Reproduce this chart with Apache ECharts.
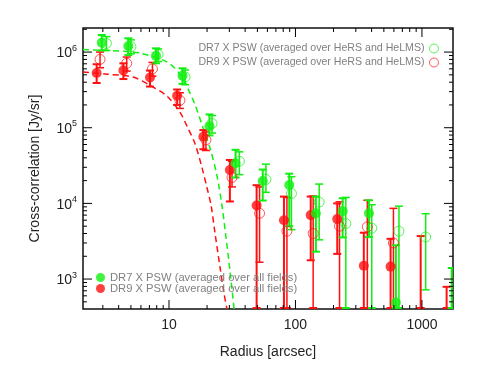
<!DOCTYPE html>
<html><head><meta charset="utf-8">
<script src="https://cdn.jsdelivr.net/npm/echarts@6/dist/echarts.min.js"></script>
<style>html,body{margin:0;padding:0;background:#fff}#c{width:478px;height:367px}</style>
</head><body><div id="c"></div>
<script>
// ---- axis ranges and ticks ----
const xRange = [2.09, 1760];
const yRange = [402, 2.08e6];
const xMajorTicks = [10, 100, 1000];
const yMajorTicks = [1e3, 1e4, 1e5, 1e6];
const xMinorTicks = [3,4,5,6,7,8,9,20,30,40,50,60,70,80,90,200,300,400,500,600,700,800,900];
const yMinorTicks = [500,600,700,800,900,2e3,3e3,4e3,5e3,6e3,7e3,8e3,9e3,2e4,3e4,4e4,5e4,6e4,7e4,8e4,9e4,2e5,3e5,4e5,5e5,6e5,7e5,8e5,9e5,2e6];

// ---- data: [radius, value, errLow, errHigh] ----
const dr7AllFields = [
  [2.94, 1.33e6, 1.05e6, 1.68e6],
  [4.77, 1.2e6, 9.1e5, 1.52e6],
  [7.89, 8.9e5, 7.1e5, 1.12e6],
  [12.8, 4.87e5, 3.8e5, 6.1e5],
  [20.9, 1.05e5, 7.9e4, 1.5e5],
  [33.6, 3.4e4, 2.2e4, 5.1e4],
  [55.1, 1.98e4, 1.09e4, 2.8e4],
  [89.3, 1.75e4, 5.0e3, 2.47e4],
  [145, 7.4e3, 2.3e3, 1.23e4],
  [236, 7.9e3, 3.55e3, 1.17e4],
  [381, 7.4e3, 3.6e3, 1.1e4],
  [622, 490, 100, 2.8e3],
  [1720, 150, 100, 1.4e3]
];
const dr9AllFields = [
  [2.68, 5.3e5, 3.9e5, 6.9e5],
  [4.36, 5.7e5, 4.4e5, 7.1e5],
  [7.08, 4.6e5, 3.5e5, 5.7e5],
  [11.6, 2.65e5, 2.0e5, 3.2e5],
  [18.7, 7.6e4, 5.2e4, 9.3e4],
  [30.3, 2.76e4, 1.06e4, 3.75e4],
  [49.3, 9.4e3, 100, 1.74e4],
  [81.1, 6.0e3, 100, 1.23e4],
  [132, 7.0e3, 1.77e3, 1.23e4],
  [214, 6.2e3, 2.15e3, 1.0e4],
  [347, 1.5e3, 100, 4.1e3],
  [565, 1.46e3, 100, 3.4e3],
  [977, 150, 100, 3.7e3],
  [1567, 150, 100, 790]
];
const dr7HerMS = [
  [3.2, 1.3e6, 1.05e6, 1.6e6],
  [5.0, 1.18e6, 9.5e5, 1.45e6],
  [8.2, 9.3e5, 7.5e5, 1.1e6],
  [13.4, 4.7e5, 3.7e5, 5.8e5],
  [21.9, 1.14e5, 8.5e4, 1.45e5],
  [36, 3.6e4, 2.4e4, 4.8e4],
  [58.4, 2.07e4, 1.4e4, 3.3e4],
  [92.9, 1.35e4, 4.5e3, 2.25e4],
  [154, 1.04e4, 3.3e3, 1.8e4],
  [250, 5.4e3, 100, 1.2e4],
  [401, 4.7e3, 100, 9.6e3],
  [658, 4.3e3, 100, 9.2e3],
  [1070, 3.6e3, 720, 7.3e3]
];
const dr9HerMS = [
  [2.85, 8.0e5, 6.2e5, 1.0e6],
  [4.63, 7.1e5, 5.6e5, 8.6e5],
  [7.4, 6.0e5, 4.8e5, 7.3e5],
  [12.2, 2.3e5, 1.8e5, 2.9e5],
  [19.6, 6.9e4, 5.0e4, 8.8e4],
  [31.5, 2.2e4, 1.65e4, 3.6e4],
  [52, 7.4e3, 1.67e3, 1.65e4],
  [85.6, 4.3e3, 100, 1.2e4],
  [138, 4.0e3, 100, 1.25e4],
  [223, 5.0e3, 100, 1.05e4],
  [370, 4.9e3, 100, 1.1e4],
  [595, 3.0e3, 100, 8.6e3]
];
// ---- dashed model curves: [radius, value] ----
const dr7Fit = [[2.09,1.08e6],[4.66,1.02e6],[5.9,9.7e5],[9.64,7.4e5],[12.2,5.1e5],[14.1,3.3e5],[16.1,2.0e5],[18.6,9.9e4],[21.1,5.4e4],[23.9,2.37e4],[26.2,9.5e3],[28.2,3.6e3],[30.3,1.32e3],[32.7,403]];
const dr9Fit = [[2.09,5.45e5],[3.24,5.1e5],[5.19,4.67e5],[7.48,3.45e5],[9.64,2.62e5],[12.2,1.61e5],[14.1,9.9e4],[16.1,6.1e4],[18.2,3.0e4],[20.0,1.6e4],[21.5,9.5e3],[23.1,4.06e3],[25.3,1.45e3],[27.2,655],[28.7,403]];

const names = {
  dr7All: 'DR7 X PSW (averaged over all fields)',
  dr9All: 'DR9 X PSW (averaged over all fields)',
  dr7H: 'DR7 X PSW (averaged over HeRS and HeLMS)',
  dr9H: 'DR9 X PSW (averaged over HeRS and HeLMS)'
};
const RED = '#ff1010';
const GREEN = '#10f010';
const TXT = '#808080';

function errSeries(data, color, width) {
  return {
    type: 'custom', data: data, clip: true, z: 3, silent: true,
    encode: {x: 0, y: 1},
    renderItem: function (params, api) {
      const cs = params.coordSys;
      const x = api.value(0), lo = api.value(2), hi = api.value(3);
      const pTop = api.coord([x, hi]);
      let pBot = api.coord([x, lo]);
      const bottomEdge = cs.y + cs.height;
      const children = [];
      let loCap = true;
      if (pBot[1] > bottomEdge) { pBot = [pBot[0], bottomEdge]; loCap = false; }
      const st = {stroke: color, lineWidth: width};
      children.push({type: 'line', shape: {x1: pTop[0], y1: pTop[1], x2: pBot[0], y2: pBot[1]}, style: st});
      children.push({type: 'line', shape: {x1: pTop[0]-4, y1: pTop[1], x2: pTop[0]+4, y2: pTop[1]}, style: st});
      if (loCap) children.push({type: 'line', shape: {x1: pBot[0]-4, y1: pBot[1], x2: pBot[0]+4, y2: pBot[1]}, style: st});
      else children.push({type: 'line', shape: {x1: pBot[0]-4, y1: pBot[1]-1, x2: pBot[0]+4, y2: pBot[1]-1}, style: {stroke: color, lineWidth: 2}});
      return {type: 'group', children: children};
    }
  };
}
function tickSeries(vals, len, isX) {
  return {
    type: 'custom', silent: true, z: 10, clip: false,
    data: vals.map(v => isX ? [v, yRange[0]] : [xRange[0], v]),
    encode: {x: 0, y: 1},
    renderItem: function (params, api) {
      const cs = params.coordSys;
      const st = {stroke: '#000', lineWidth: 1};
      if (isX) {
        const p = api.coord([api.value(0), yRange[0]]);
        return {type: 'group', children: [
          {type: 'line', shape: {x1: p[0], y1: cs.y + cs.height, x2: p[0], y2: cs.y + cs.height - len}, style: st},
          {type: 'line', shape: {x1: p[0], y1: cs.y, x2: p[0], y2: cs.y + len}, style: st}
        ]};
      } else {
        const p = api.coord([xRange[0], api.value(1)]);
        return {type: 'group', children: [
          {type: 'line', shape: {x1: cs.x, y1: p[1], x2: cs.x + len, y2: p[1]}, style: st},
          {type: 'line', shape: {x1: cs.x + cs.width, y1: p[1], x2: cs.x + cs.width - len, y2: p[1]}, style: st}
        ]};
      }
    }
  };
}
function isPow10(v) {
  const l = Math.log10(v);
  return Math.abs(l - Math.round(l)) < 1e-6;
}
const pts = a => a.map(d => [d[0], d[1]]);

const chart = echarts.init(document.getElementById('c'), null, {renderer: 'canvas'});
chart.setOption({
  animation: false,
  backgroundColor: '#fff',
  textStyle: {fontFamily: 'Liberation Sans'},
  grid: {left: 83, top: 28, right: 25, bottom: 58, show: true, borderColor: '#111', borderWidth: 1.5, backgroundColor: 'transparent'},
  xAxis: {
    type: 'log', logBase: 10, min: xRange[0], max: xRange[1],
    axisLine: {show: false}, axisTick: {show: false}, splitLine: {show: false}, minorTick: {show: false},
    axisLabel: {margin: 9, fontSize: 14, color: '#222', showMinLabel: false, showMaxLabel: false,
      formatter: v => isPow10(v) ? String(Math.round(v)) : ''},
    name: 'Radius [arcsec]', nameLocation: 'middle', nameGap: 36,
    nameTextStyle: {fontSize: 14, color: '#222'}
  },
  yAxis: {
    type: 'log', logBase: 10, min: yRange[0], max: yRange[1],
    axisLine: {show: false}, axisTick: {show: false}, splitLine: {show: false}, minorTick: {show: false},
    axisLabel: {margin: 6, showMinLabel: false, showMaxLabel: false,
      formatter: v => isPow10(v) ? '{b|10}{s|' + Math.round(Math.log10(v)) + '}' : '',
      rich: {b: {fontSize: 14, color: '#222', verticalAlign: 'bottom'}, s: {fontSize: 9, color: '#222', verticalAlign: 'top', padding: [0,0,8,0]}}},
    name: 'Cross-correlation [Jy/sr]', nameLocation: 'middle', nameGap: 41, nameRotate: 90,
    nameTextStyle: {fontSize: 14, color: '#222'}
  },
  legend: [
    {
      data: [names.dr7H, names.dr9H].map((n, i) => ({name: n, icon: 'circle',
        itemStyle: {color: 'transparent', borderColor: i ? RED : GREEN, borderWidth: 1}})),
      orient: 'vertical', right: 39, top: 43, align: 'right', itemWidth: 9, itemHeight: 9, itemGap: 3,
      padding: 0, selectedMode: false, textStyle: {color: TXT, fontSize: 10.6, lineHeight: 10}
    },
    {
      data: [names.dr7All, names.dr9All].map((n, i) => ({name: n, icon: 'circle',
        itemStyle: {color: i ? RED : GREEN, borderWidth: 0}})),
      orient: 'vertical', left: 96, top: 272, align: 'left', itemWidth: 9, itemHeight: 9, itemGap: 0,
      padding: 0, selectedMode: false, textStyle: {color: TXT, fontSize: 11.2, lineHeight: 10}
    }
  ],
  series: [
    {type: 'line', data: dr9Fit, symbol: 'none', smooth: 0.3, clip: true, silent: true, z: 2,
      lineStyle: {color: RED, width: 1.5, type: [6, 4]}},
    {type: 'line', data: dr7Fit, symbol: 'none', smooth: 0.3, clip: true, silent: true, z: 2,
      lineStyle: {color: GREEN, width: 1.5, type: [6, 4]}},
    errSeries(dr9HerMS, RED, 1.5),
    errSeries(dr7HerMS, GREEN, 1.5),
    errSeries(dr9AllFields, RED, 2),
    errSeries(dr7AllFields, GREEN, 2),
    {name: names.dr9H, type: 'scatter', data: pts(dr9HerMS), symbol: 'circle', symbolSize: 10, clip: true, z: 4,
      itemStyle: {color: 'transparent', borderColor: RED, borderWidth: 1, opacity: 0.7}},
    {name: names.dr7H, type: 'scatter', data: pts(dr7HerMS), symbol: 'circle', symbolSize: 10, clip: true, z: 4,
      itemStyle: {color: 'transparent', borderColor: GREEN, borderWidth: 1, opacity: 0.7}},
    {name: names.dr9All, type: 'scatter', data: pts(dr9AllFields), symbol: 'circle', symbolSize: 10, clip: true, z: 5,
      itemStyle: {color: RED}},
    {name: names.dr7All, type: 'scatter', data: pts(dr7AllFields), symbol: 'circle', symbolSize: 10, clip: true, z: 5,
      itemStyle: {color: GREEN}},
    tickSeries(xMajorTicks, 9, true),
    tickSeries(xMinorTicks, 4, true),
    tickSeries(yMajorTicks, 9, false),
    tickSeries(yMinorTicks, 4, false)
  ]
});
</script></body></html>
